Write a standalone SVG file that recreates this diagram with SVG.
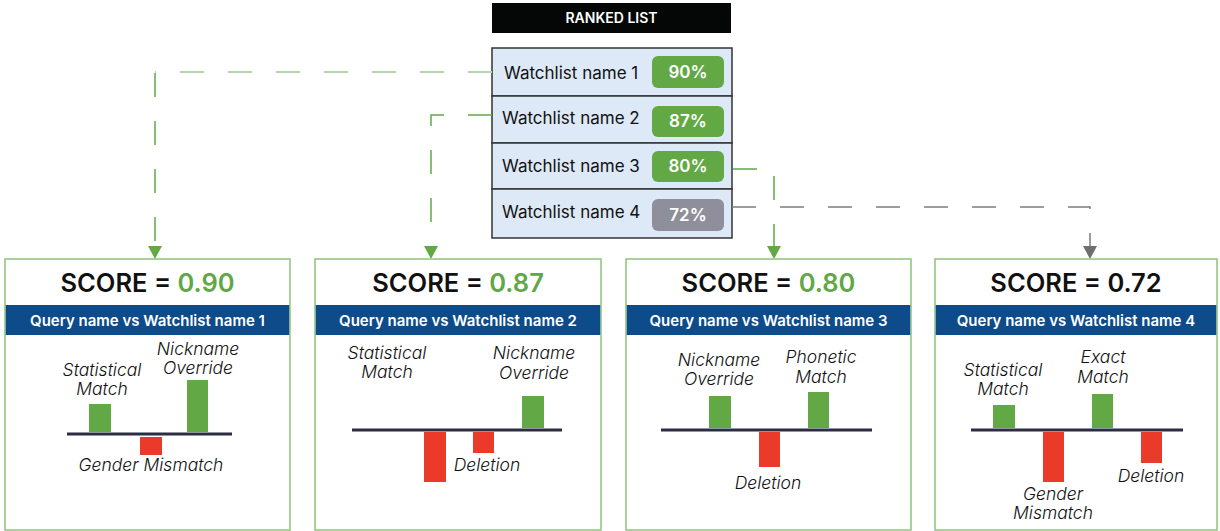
<svg xmlns="http://www.w3.org/2000/svg" width="1220" height="531" viewBox="0 0 1220 531">
<defs>
<style>
.hdr{font-family:Inter,"Liberation Sans",sans-serif;font-size:14px;font-weight:600;fill:#fff;text-anchor:middle;}
.row{fill:#dde9f6;stroke:#333;stroke-width:1.5;}
.wl{font-family:Inter,"Liberation Sans",sans-serif;font-size:17px;fill:#111;}
.pct{font-family:Inter,"Liberation Sans",sans-serif;font-size:17px;font-weight:600;fill:#fff;text-anchor:middle;}
.card{fill:#fff;stroke:#8dc47a;stroke-width:1.5;}
.band{fill:#0d4b8a;}
.score{font-family:Inter,"Liberation Sans",sans-serif;font-size:25.5px;font-weight:600;fill:#111;text-anchor:middle;}
.g{fill:#5fa845;}
.qt{font-family:Inter,"Liberation Sans",sans-serif;font-size:15px;font-weight:600;fill:#fff;text-anchor:middle;}
.axis{stroke:#2b2d42;stroke-width:3;}
.gb{fill:#62a946;}
.rb{fill:#ea3a2a;}
.lbl{font-family:Inter,"Liberation Sans",sans-serif;font-size:17.5px;font-style:italic;font-weight:300;fill:#111;text-anchor:middle;}
.cg{fill:none;stroke:#62a946;stroke-width:1.5;stroke-dasharray:24 24;}
.cgl{fill:none;stroke:#b5d9a6;stroke-width:2;stroke-dasharray:24 24;}
.cy{fill:none;stroke:#7d7d7d;stroke-width:1.5;stroke-dasharray:24 24;}
</style>
</defs>

<g id="ranked-list">
<rect x="492" y="3" width="239" height="30" fill="#050707"/>
<text class="hdr" x="611.5" y="23">RANKED LIST</text>
<rect class="row" x="492" y="48" width="240" height="48"/>
<rect class="row" x="492" y="96" width="240" height="47"/>
<rect class="row" x="492" y="143" width="240" height="46"/>
<rect class="row" x="492" y="189" width="240" height="49"/>
<text class="wl" x="504" y="79">Watchlist name 1</text>
<text class="wl" x="502" y="124">Watchlist name 2</text>
<text class="wl" x="502" y="172">Watchlist name 3</text>
<text class="wl" x="502" y="218">Watchlist name 4</text>
<rect x="652" y="56" width="72" height="32" rx="6" fill="#62a946"/>
<rect x="652" y="106" width="72" height="31" rx="6" fill="#62a946"/>
<rect x="652" y="151" width="72" height="31" rx="6" fill="#62a946"/>
<rect x="652" y="199" width="72" height="32" rx="6" fill="#8e8f9a"/>
<text class="pct" x="688" y="78">90%</text>
<text class="pct" x="688" y="127">87%</text>
<text class="pct" x="688" y="172">80%</text>
<text class="pct" x="688" y="221">72%</text>
</g>

<g id="connectors">
<path class="cgl" d="M492,72 H155"/>
<path class="cg" d="M155,73 V246"/>
<path d="M148,246 L162,246 L155,259 Z" fill="#62a946"/>
<path class="cg" d="M492,115 H431 V246"/>
<path d="M424,246 L438,246 L431,259 Z" fill="#62a946"/>
<path class="cg" d="M733,169 H774 V246"/>
<path d="M767,246 L781,246 L774,259 Z" fill="#62a946"/>
<path class="cy" d="M732,207 H1090 V246"/>
<path d="M1083,246 L1097,246 L1090,259 Z" fill="#6f6f6f"/>
</g>

<g id="card1">
<rect class="card" x="5" y="259" width="285" height="271"/>
<text class="score" x="147.5" y="292">SCORE = <tspan class="g">0.90</tspan></text>
<rect class="band" x="5.75" y="305" width="283.5" height="30"/>
<text class="qt" x="147.5" y="325.5">Query name vs Watchlist name 1</text>
<rect class="gb" x="89" y="404" width="22" height="28"/>
<rect class="gb" x="187" y="380" width="21" height="52"/>
<rect class="rb" x="140" y="437" width="22" height="18"/>
<line class="axis" x1="67" y1="434" x2="232" y2="434"/>
<text class="lbl" x="102" y="376">Statistical</text>
<text class="lbl" x="102" y="395">Match</text>
<text class="lbl" x="198" y="355">Nickname</text>
<text class="lbl" x="198" y="374">Override</text>
<text class="lbl" x="151" y="471">Gender Mismatch</text>
</g>

<g id="card2">
<rect class="card" x="315" y="259" width="286" height="271"/>
<text class="score" x="458" y="292">SCORE = <tspan class="g">0.87</tspan></text>
<rect class="band" x="315.75" y="305" width="284.5" height="30"/>
<text class="qt" x="458" y="325.5">Query name vs Watchlist name 2</text>
<rect class="gb" x="522" y="396" width="22" height="32"/>
<rect class="rb" x="424" y="432" width="22" height="50"/>
<rect class="rb" x="473" y="432" width="21" height="21"/>
<line class="axis" x1="352" y1="430" x2="562" y2="430"/>
<text class="lbl" x="387" y="359">Statistical</text>
<text class="lbl" x="387" y="378">Match</text>
<text class="lbl" x="534" y="359">Nickname</text>
<text class="lbl" x="534" y="379">Override</text>
<text class="lbl" x="487" y="471">Deletion</text>
</g>

<g id="card3">
<rect class="card" x="626" y="259" width="285" height="271"/>
<text class="score" x="768.5" y="292">SCORE = <tspan class="g">0.80</tspan></text>
<rect class="band" x="626.75" y="305" width="283.5" height="30"/>
<text class="qt" x="768.5" y="325.5">Query name vs Watchlist name 3</text>
<rect class="gb" x="709" y="396" width="22" height="32"/>
<rect class="gb" x="808" y="392" width="21" height="36"/>
<rect class="rb" x="759" y="432" width="21" height="35"/>
<line class="axis" x1="661" y1="430" x2="872" y2="430"/>
<text class="lbl" x="719" y="366">Nickname</text>
<text class="lbl" x="719" y="385">Override</text>
<text class="lbl" x="821" y="363">Phonetic</text>
<text class="lbl" x="821" y="383">Match</text>
<text class="lbl" x="768" y="489">Deletion</text>
</g>

<g id="card4">
<rect class="card" x="935" y="259" width="282" height="271"/>
<text class="score" x="1076" y="292">SCORE = 0.72</text>
<rect class="band" x="935.75" y="305" width="280.5" height="30"/>
<text class="qt" x="1076" y="325.5">Query name vs Watchlist name 4</text>
<rect class="gb" x="993" y="405" width="22" height="23"/>
<rect class="gb" x="1092" y="394" width="21" height="34"/>
<rect class="rb" x="1043" y="432" width="21" height="50"/>
<rect class="rb" x="1141" y="432" width="21" height="31"/>
<line class="axis" x1="971" y1="430" x2="1183" y2="430"/>
<text class="lbl" x="1003" y="376">Statistical</text>
<text class="lbl" x="1003" y="395">Match</text>
<text class="lbl" x="1103" y="363">Exact</text>
<text class="lbl" x="1103" y="383">Match</text>
<text class="lbl" x="1053" y="500">Gender</text>
<text class="lbl" x="1053" y="519">Mismatch</text>
<text class="lbl" x="1151" y="482">Deletion</text>
</g>
</svg>
